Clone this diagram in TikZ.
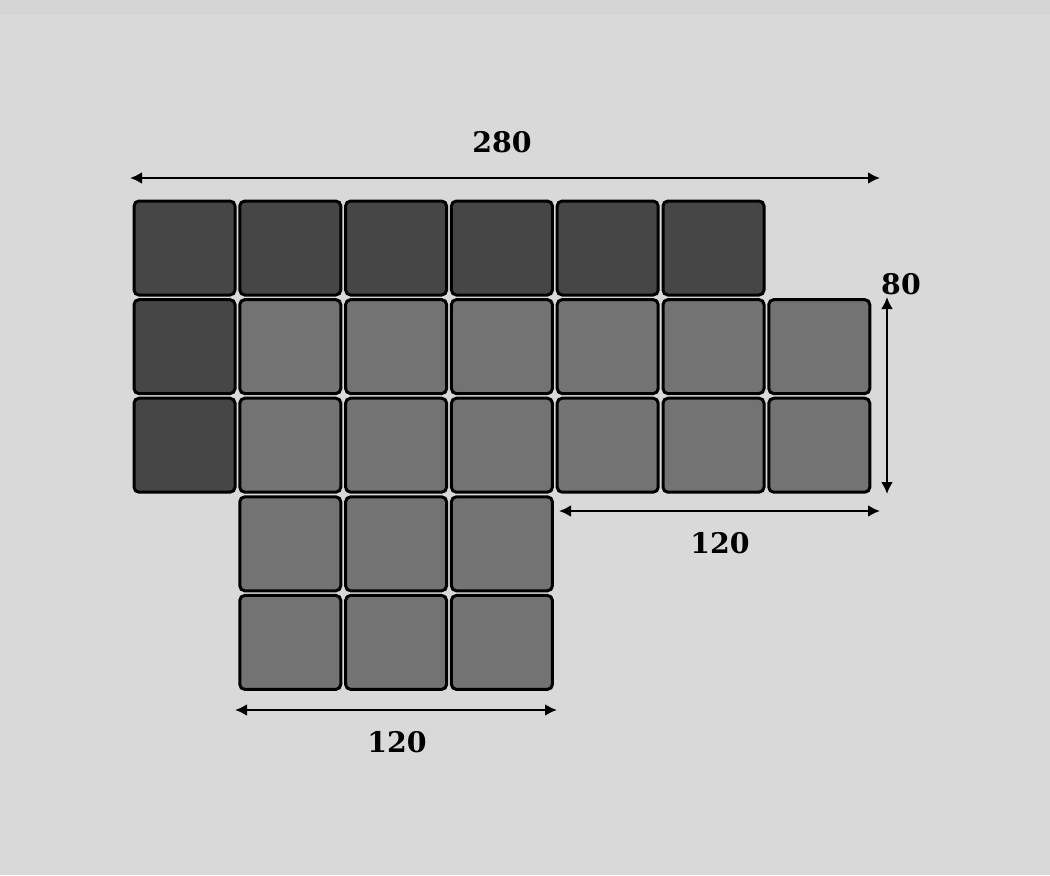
\documentclass[tikz,border=0pt]{standalone}
\usepackage{fontspec}
\setmainfont{DejaVu Serif}
\usetikzlibrary{arrows.meta}
\definecolor{bgcol}{HTML}{D9D9D9}
\definecolor{stripcol}{HTML}{D5D5D5}
\definecolor{darkcell}{HTML}{464646}
\definecolor{lightcell}{HTML}{737373}
\tikzset{
  cell/.style={rectangle, draw=black, line width=1.5pt, rounded corners=2.5pt,
    minimum width=50.5pt, minimum height=47pt, inner sep=0pt},
  dim/.style={line width=1.4pt, {Latex[length=6pt,width=6pt]}-{Latex[length=6pt,width=6pt]}},
  dimlabel/.style={font=\bfseries\fontsize{14.2}{17}\selectfont, inner sep=0pt}
}
\begin{document}
\begin{tikzpicture}[x=0.5pt, y=-0.5pt]
\fill[bgcol] (0,0) rectangle (1050,875);
\fill[stripcol] (0,0) rectangle (1050,15);
\useasboundingbox (0,0) rectangle (1050,875);

% top row, dark
\foreach \i in {0,...,5} {
    \node (c0\i) at ({184.5+105.8*\i}, 248) [cell, fill=darkcell] {};
}
% left column, dark
\foreach \k in {1,2} {
    \node (c\k0) at (184.5, {248+98.6*\k}) [cell, fill=darkcell] {};
}
% middle rows, light
\foreach \k in {1,2} {
    \foreach \i in {1,...,6} {
        \node (c\k\i) at ({184.5+105.8*\i}, {248+98.6*\k}) [cell, fill=lightcell] {};
    }
}
% lower block, light
\foreach \k in {3,4} {
    \foreach \i in {1,2,3} {
        \node (c\k\i) at ({184.5+105.8*\i}, {248+98.6*\k}) [cell, fill=lightcell] {};
    }
}

% dimension lines
\coordinate (topL) at (130,178);
\coordinate (topR) at (880,178);
\coordinate (sideT) at (887,297);
\coordinate (sideB) at (887,494);
\coordinate (midL) at (559,511);
\coordinate (midR) at (880,511);
\coordinate (botL) at (235,710);
\coordinate (botR) at (557,710);

\draw[dim] (topL) -- (topR);
\draw[dim] (sideT) -- (sideB);
\draw[dim] (midL) -- (midR);
\draw[dim] (botL) -- (botR);

\node (len280) at (502,142) [dimlabel] {280};
\node (len80) at (901,284) [dimlabel] {80};
\node (lenmid) at (720,543) [dimlabel] {120};
\node (lenbot) at (397,742) [dimlabel] {120};
\end{tikzpicture}
\end{document}
